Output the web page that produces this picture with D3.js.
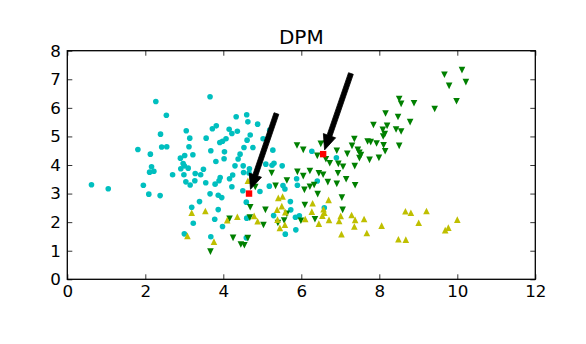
<!DOCTYPE html>
<html><head><meta charset="utf-8">
<script src="https://cdn.jsdelivr.net/npm/d3@7"></script>
<style>body{margin:0;background:#fff}</style>
</head><body>
<script>
const title = "DPM";
const xTicks = [0, 2, 4, 6, 8, 10, 12];
const yTicks = [0, 1, 2, 3, 4, 5, 6, 7, 8];
const cyanPts = [
[2.27,6.22],[3.66,6.39],[2.54,5.74],[2.39,5.08],[3.05,5.20],[3.14,4.94],[3.56,4.94],[3.72,5.27],[3.82,5.37],[4.15,5.25],
[2.42,4.63],[2.55,4.64],[3.12,4.64],[1.81,4.54],[2.13,4.38],[3.01,4.33],[3.22,4.36],[3.68,4.50],[3.91,4.79],[3.98,4.83],
[4.07,4.92],[4.03,4.46],[2.90,4.24],[2.97,4.05],[3.00,3.97],[3.81,4.12],[4.02,4.22],[2.16,3.94],[2.91,3.87],[3.10,3.89],
[3.49,3.85],[4.33,5.69],[4.60,5.76],[4.63,5.51],[4.88,5.43],[4.36,5.18],[4.22,5.10],[4.69,5.05],[4.61,4.87],[5.02,4.92],
[5.19,5.22],[4.43,4.38],[4.38,4.21],[4.53,4.61],[4.76,4.61],[5.27,4.52],[4.30,3.97],[4.51,3.97],[4.67,3.87],[5.09,4.03],
[5.25,3.99],[5.30,4.06],[5.51,3.97],[6.27,4.48],[2.11,3.75],[2.22,3.78],[2.70,3.66],[2.99,3.66],[3.28,3.70],[3.42,3.66],
[3.92,3.56],[3.89,3.45],[4.16,3.52],[3.04,3.41],[3.15,3.30],[3.27,3.45],[3.55,3.38],[3.79,3.33],[1.95,3.29],[2.09,2.98],
[2.38,2.93],[3.66,2.99],[3.87,2.94],[3.96,2.86],[3.39,2.72],[3.19,2.52],[3.87,2.44],[3.78,2.10],[3.23,1.96],[3.98,1.85],
[3.00,1.59],[3.68,1.49],[0.62,3.31],[1.05,3.17],[4.24,3.65],[4.52,3.74],[4.66,3.72],[4.22,3.24],[4.50,3.10],[4.94,3.07],
[4.59,2.70],[5.18,3.26],[5.53,3.28],[5.58,3.16],[5.72,2.72],[5.29,2.23],[5.85,2.17],[5.95,2.22],[4.60,2.14],[5.86,1.73],
[5.59,1.58],[5.88,3.52],[5.90,3.29],[6.41,3.44],[6.90,4.25],[6.59,2.50],[5.73,2.43],[4.59,1.45]
];
const greenPts = [
[9.67,7.16],[10.12,7.32],[10.22,6.90],[9.79,6.77],[9.98,6.23],[9.42,5.96],[8.51,6.31],[8.56,6.14],[8.89,6.16],[8.16,5.80],
[8.48,5.68],[8.79,5.50],[7.85,5.40],[8.20,5.37],[8.09,5.23],[8.14,5.08],[8.10,5.00],[8.43,5.24],[8.56,5.17],[7.36,4.91],
[7.70,4.82],[7.78,4.80],[7.93,4.75],[8.11,4.69],[7.30,4.67],[8.51,4.67],[7.45,4.53],[7.49,4.43],[8.15,4.48],[7.53,4.35],
[7.49,4.24],[7.75,4.18],[7.99,4.25],[7.37,3.96],[7.38,3.29],[5.89,4.68],[6.05,4.53],[6.50,4.74],[6.63,4.74],[6.41,4.32],
[6.63,4.20],[6.73,4.06],[6.91,4.50],[6.95,4.04],[7.07,3.94],[7.18,4.39],[5.90,3.76],[6.05,3.61],[6.22,3.79],[6.45,3.71],
[6.56,3.66],[6.94,3.71],[6.68,3.40],[6.91,3.34],[7.15,3.50],[6.08,3.13],[6.22,3.24],[6.33,3.30],[6.42,2.98],[7.04,2.86],
[6.09,2.60],[7.06,2.43],[6.35,2.10],[5.99,2.05],[4.82,3.23],[5.08,2.43],[4.69,2.52],[4.68,2.16],[5.03,1.90],[4.16,2.12],
[4.25,1.45],[4.63,1.44],[4.45,1.22],[4.54,1.19],[5.34,3.27],[5.24,3.72],[5.63,3.46],[5.63,2.29],[5.56,2.06],[5.40,1.97],
[3.67,0.97]
];
const yellowPts = [
[3.19,2.33],[3.54,2.39],[3.08,1.52],[3.76,1.32],[4.10,2.07],[4.36,2.19],[4.63,3.45],[4.79,2.22],[4.88,2.03],[5.41,2.85],
[5.52,2.90],[5.50,2.56],[5.38,2.44],[5.59,2.35],[5.39,2.09],[5.58,1.91],[5.45,1.80],[6.10,2.11],[6.29,2.66],[6.27,2.37],
[6.45,1.95],[6.57,2.45],[6.59,2.33],[6.54,2.23],[6.70,2.78],[6.71,2.08],[6.97,2.04],[7.01,2.22],[7.03,1.58],[7.29,2.25],
[7.38,2.08],[7.36,1.85],[7.61,2.11],[7.68,1.62],[8.06,1.88],[8.67,2.38],[8.81,2.33],[9.21,2.39],[9.01,1.98],[8.49,1.40],
[8.68,1.39],[9.69,1.72],[9.77,1.81],[10.00,2.09]
];
const redPts = [[4.66,3.00],[6.56,4.38]];
const arrowTails = [[5.40,5.95],[7.31,7.35]];

const W = 586, H = 344;
const L = 67.3, R = 535.3, T = 50.7, B = 279.3;
const font = "DejaVu Sans, sans-serif";

const svg = d3.select("body").append("svg").attr("width", W).attr("height", H)
  .style("background", "#fff");

const x = d3.scaleLinear().domain([0, 12]).range([L, R]);
const y = d3.scaleLinear().domain([0, 8]).range([B, T]);

// markers
const g = svg.append("g");
g.selectAll("circle.c").data(cyanPts).enter().append("circle")
  .attr("cx", d => x(d[0])).attr("cy", d => y(d[1])).attr("r", 2.8)
  .attr("fill", "#00bfbf");

const tri = (cx, cy, s, up) => {
  const h = s / 2;
  return up
    ? `M${cx},${cy - h}L${cx - h},${cy + h}L${cx + h},${cy + h}Z`
    : `M${cx},${cy + h}L${cx - h},${cy - h}L${cx + h},${cy - h}Z`;
};
g.selectAll("path.gr").data(greenPts).enter().append("path")
  .attr("d", d => tri(x(d[0]), y(d[1]), 6.6, false)).attr("fill", "#008000");
g.selectAll("path.ye").data(yellowPts).enter().append("path")
  .attr("d", d => tri(x(d[0]), y(d[1]), 6.6, true)).attr("fill", "#bfbf00");
g.selectAll("rect.r").data(redPts).enter().append("rect")
  .attr("x", d => x(d[0]) - 3.2).attr("y", d => y(d[1]) - 3.2)
  .attr("width", 6.4).attr("height", 6.4).attr("fill", "#ff0000");

// arrows
function arrowPath(tail, tip) {
  const tx = x(tail[0]), ty = y(tail[1]), px = x(tip[0]), py = y(tip[1]);
  const dx = px - tx, dy = py - ty, len = Math.hypot(dx, dy);
  const ux = dx / len, uy = dy / len, nx = -uy, ny = ux;
  const s = 4.5, hl = 15, hw = 13, w = 5;
  const sx = tx + ux * s, sy = ty + uy * s;
  const ex = px - ux * s, ey = py - uy * s;
  const bx = ex - ux * hl, by = ey - uy * hl;
  const pts = [
    [sx + nx * w / 2, sy + ny * w / 2], [bx + nx * w / 2, by + ny * w / 2],
    [bx + nx * hw / 2, by + ny * hw / 2], [ex, ey],
    [bx - nx * hw / 2, by - ny * hw / 2], [bx - nx * w / 2, by - ny * w / 2],
    [sx - nx * w / 2, sy - ny * w / 2]
  ];
  return "M" + pts.map(p => p.join(",")).join("L") + "Z";
}
svg.selectAll("path.arrow").data(redPts).enter().append("path")
  .attr("d", (d, i) => arrowPath(arrowTails[i], d))
  .attr("fill", "#000").attr("stroke", "#000").attr("stroke-width", 0.8);

// axes
const styleAxis = sel => {
  sel.select(".domain").remove();
  sel.selectAll(".tick line").attr("stroke", "#000").attr("stroke-width", 0.8);
  sel.selectAll(".tick text").attr("fill", "#000").style("font-family", font).style("font-size", "16.7px");
};
svg.append("g").attr("transform", `translate(0,${B})`)
  .call(d3.axisBottom(x).tickValues(xTicks).tickFormat(d3.format("d")).tickSizeInner(-5).tickSizeOuter(0).tickPadding(6))
  .call(styleAxis);
svg.append("g").attr("transform", `translate(0,${T})`)
  .call(d3.axisTop(x).tickValues(xTicks).tickFormat("").tickSizeInner(-5).tickSizeOuter(0))
  .call(styleAxis);
svg.append("g").attr("transform", `translate(${L},0)`)
  .call(d3.axisLeft(y).tickValues(yTicks).tickFormat(d3.format("d")).tickSizeInner(-5).tickSizeOuter(0).tickPadding(6.5))
  .call(styleAxis);
svg.append("g").attr("transform", `translate(${R},0)`)
  .call(d3.axisRight(y).tickValues(yTicks).tickFormat("").tickSizeInner(-5).tickSizeOuter(0))
  .call(styleAxis);

svg.append("rect").attr("x", L).attr("y", T).attr("width", R - L).attr("height", B - T)
  .attr("fill", "none").attr("stroke", "#000").attr("stroke-width", 1.3);

svg.append("text").attr("x", (L + R) / 2).attr("y", T - 6.7)
  .attr("text-anchor", "middle").style("font-family", font).style("font-size", "20px")
  .attr("fill", "#000").text(title);
</script>
</body></html>
